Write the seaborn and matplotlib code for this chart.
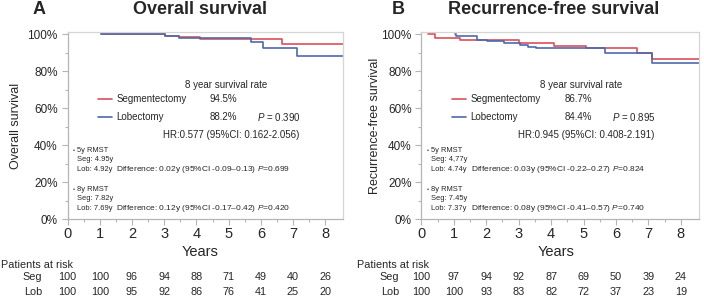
import numpy as np
import pandas as pd
import matplotlib
matplotlib.use("Agg")
import matplotlib.pyplot as plt
import seaborn as sns

sns.set_style("white")
plt.rcParams['font.family'] = ['Liberation Sans', 'DejaVu Sans']
plt.rcParams['mathtext.fontset'] = 'custom'
plt.rcParams['mathtext.it'] = 'Liberation Sans:italic'
plt.rcParams['mathtext.rm'] = 'Liberation Sans'

RED = '#d8505c'
BLUE = '#4f69a8'
GRAY = '#b5b5b5'

# ---- Data: Kaplan-Meier steps (time in years, survival in %) ----
os_seg_t = [1.04, 3.02, 3.45, 4.10, 6.67, 8.55]
os_seg_s = [100.0, 98.8, 98.2, 97.4, 94.5, 94.5]
os_lob_t = [1.04, 3.02, 3.45, 5.70, 6.07, 7.13, 8.55]
os_lob_s = [100.0, 99.0, 97.6, 95.5, 92.7, 88.2, 88.2]

rfs_seg_t = [0.22, 0.42, 1.18, 3.02, 4.10, 5.08, 6.64, 7.12, 8.55]
rfs_seg_s = [100.0, 97.6, 96.6, 95.0, 93.8, 92.6, 89.8, 86.7, 86.7]
rfs_lob_t = [1.04, 1.08, 1.73, 2.04, 2.54, 3.04, 3.30, 3.52, 5.67, 7.10, 8.55]
rfs_lob_s = [100.0, 98.7, 97.0, 96.2, 95.2, 94.2, 93.0, 92.3, 89.8, 84.4, 84.4]

risk_years = [0, 1, 2, 3, 4, 5, 6, 7, 8]
os_risk_seg = [100, 100, 96, 94, 88, 71, 49, 40, 26]
os_risk_lob = [100, 100, 95, 92, 86, 76, 41, 25, 20]
rfs_risk_seg = [100, 97, 94, 92, 87, 69, 50, 39, 24]
rfs_risk_lob = [100, 100, 93, 83, 82, 72, 37, 23, 19]

yticks = [0, 20, 40, 60, 80, 100]
ytick_labels = ['0%', '20%', '40%', '60%', '80%', '100%']

panels = [
    dict(letter='A', title='Overall survival', ylabel='Overall survival',
         seg=(os_seg_t, os_seg_s), lob=(os_lob_t, os_lob_s),
         rate_seg='94.5%', rate_lob='88.2%', p='0.390',
         hr='HR:0.577 (95%CI: 0.162-2.056)',
         r5=('Seg: 4.95y', 'Lob: 4.92y', 'Difference: 0.02y (95%CI -0.09\u20130.13) $\\mathit{P}$=0.699'),
         r8=('Seg: 7.82y', 'Lob: 7.69y', 'Difference: 0.12y (95%CI -0.17\u20130.42) $\\mathit{P}$=0.420'),
         risk_seg=os_risk_seg, risk_lob=os_risk_lob),
    dict(letter='B', title='Recurrence-free survival', ylabel='Recurrence-free survival',
         seg=(rfs_seg_t, rfs_seg_s), lob=(rfs_lob_t, rfs_lob_s),
         rate_seg='86.7%', rate_lob='84.4%', p='0.895',
         hr='HR:0.945 (95%CI: 0.408-2.191)',
         r5=('Seg: 4,77y', 'Lob: 4.74y', 'Difference: 0.03y (95%CI -0.22\u20130.27) $\\mathit{P}$=0.824'),
         r8=('Seg: 7.45y', 'Lob: 7.37y', 'Difference: 0.08y (95%CI -0.41\u20130.57) $\\mathit{P}$=0.740'),
         risk_seg=rfs_risk_seg, risk_lob=rfs_risk_lob),
]

W, H = 704, 299
fig = plt.figure(figsize=(W / 100, H / 100), dpi=100)

ax_px = [(67.5, 343.0), (421.3, 698.7)]
top_px, bot_px = 32.2, 219.0
title_x = [200, 554]
letter_x = [33, 392]
ylab_x = [16, 375]
years_x = [200, 556]
par_x = [1, 357]
grp_x = [42, 399]

for i, p in enumerate(panels):
    l, r = ax_px[i]
    ax = fig.add_axes([l / W, 1 - bot_px / H, (r - l) / W, (bot_px - top_px) / H])
    df = pd.concat([
        pd.DataFrame({'t': p['lob'][0], 's': p['lob'][1], 'g': 'Lobectomy'}),
        pd.DataFrame({'t': p['seg'][0], 's': p['seg'][1], 'g': 'Segmentectomy'}),
    ])
    sns.lineplot(data=df[df.g == 'Segmentectomy'], x='t', y='s', color=RED,
                 drawstyle='steps-post', estimator=None, sort=False, lw=1.2, ax=ax, legend=False)
    sns.lineplot(data=df[df.g == 'Lobectomy'], x='t', y='s', color=BLUE,
                 drawstyle='steps-post', estimator=None, sort=False, lw=1.2, ax=ax, legend=False)
    ax.set_xlim(0, 8.55)
    ax.set_ylim(0, 101)
    ax.set_xlabel('')
    ax.set_ylabel('')
    ax.set_yticks(yticks)
    ax.set_yticklabels(ytick_labels)
    ax.set_yticks(np.arange(10, 100, 20), minor=True)
    ax.set_xticks(risk_years)
    ax.set_xticks(np.arange(0.5, 8.5, 1.0), minor=True)
    ax.tick_params(axis='y', which='major', direction='out', length=4, width=0.8,
                   color=GRAY, labelsize=8.5, pad=3, left=True)
    ax.tick_params(axis='y', which='minor', direction='out', length=2.5, width=0.8,
                   color=GRAY, left=True)
    ax.tick_params(axis='x', which='major', direction='out', length=4, width=0.8,
                   color=GRAY, labelsize=10.5, pad=1.5, bottom=True)
    ax.tick_params(axis='x', which='minor', direction='out', length=2.5, width=0.8,
                   color=GRAY, bottom=True)
    for sname, sp in ax.spines.items():
        sp.set_visible(True)
        sp.set_color(GRAY if sname in ('left', 'bottom') else '#d5d5d5')
        sp.set_linewidth(0.9)

    # annotations
    fs = 7
    ax.text(4.92, 72.4, '8 year survival rate', ha='center', va='center', fontsize=fs)
    ax.plot([0.95, 1.38], [64.7, 64.7], color=RED, lw=1.2)
    ax.plot([0.95, 1.38], [55.3, 55.3], color=BLUE, lw=1.2)
    ax.text(1.52, 64.7, 'Segmentectomy', ha='left', va='center', fontsize=fs)
    ax.text(1.52, 55.3, 'Lobectomy', ha='left', va='center', fontsize=fs)
    ax.text(4.42, 64.7, p['rate_seg'], ha='left', va='center', fontsize=fs)
    ax.text(4.42, 55.3, p['rate_lob'], ha='left', va='center', fontsize=fs)
    ax.text(5.88, 55.3, '$\\mathit{P}$ = ' + p['p'], ha='left', va='center', fontsize=fs)
    ax.text(5.08, 45.4, p['hr'], ha='center', va='center', fontsize=fs)

    sfs = 5.4
    for (yh, block, head) in [(37.3, p['r5'], '5y RMST'), (16.2, p['r8'], '8y RMST')]:
        ax.text(0.2, yh, '\u2022', ha='center', va='center', fontsize=4)
        ax.text(0.31, yh, head, ha='left', va='center', fontsize=sfs)
        ax.text(0.31, yh - 5.3, block[0], ha='left', va='center', fontsize=sfs)
        ax.text(0.31, yh - 10.5, block[1], ha='left', va='center', fontsize=sfs)
        ax.text(1.52, yh - 10.5, block[2], ha='left', va='center', fontsize=6.0)

    # titles and labels
    fig.text(letter_x[i] / W, 1 - 10 / H, p['letter'], fontsize=13, fontweight='bold',
             ha='left', va='center')
    fig.text(title_x[i] / W, 1 - 10 / H, p['title'], fontsize=13, fontweight='bold',
             ha='center', va='center')
    fig.text(ylab_x[i] / W, 1 - 126 / H, p['ylabel'], fontsize=9, rotation=90,
             ha='center', va='center')
    fig.text(years_x[i] / W, 1 - 252 / H, 'Years', fontsize=10.5, ha='center', va='center')

    # risk table
    rfs_ = 7.8
    fig.text(par_x[i] / W, 1 - 265 / H, 'Patients at risk', fontsize=rfs_, ha='left', va='center')
    fig.text(grp_x[i] / W, 1 - 277 / H, 'Seg', fontsize=rfs_, ha='right', va='center')
    fig.text(grp_x[i] / W, 1 - 292 / H, 'Lob', fontsize=rfs_, ha='right', va='center')
    trans = matplotlib.transforms.blended_transform_factory(ax.transData, fig.transFigure)
    for yr, ns, nl in zip(risk_years, p['risk_seg'], p['risk_lob']):
        ax.text(yr, 1 - 277 / H, str(ns), transform=trans, fontsize=rfs_, ha='center',
                va='center', clip_on=False)
        ax.text(yr, 1 - 292 / H, str(nl), transform=trans, fontsize=rfs_, ha='center',
                va='center', clip_on=False)

fig.savefig('out.png', dpi=100)
